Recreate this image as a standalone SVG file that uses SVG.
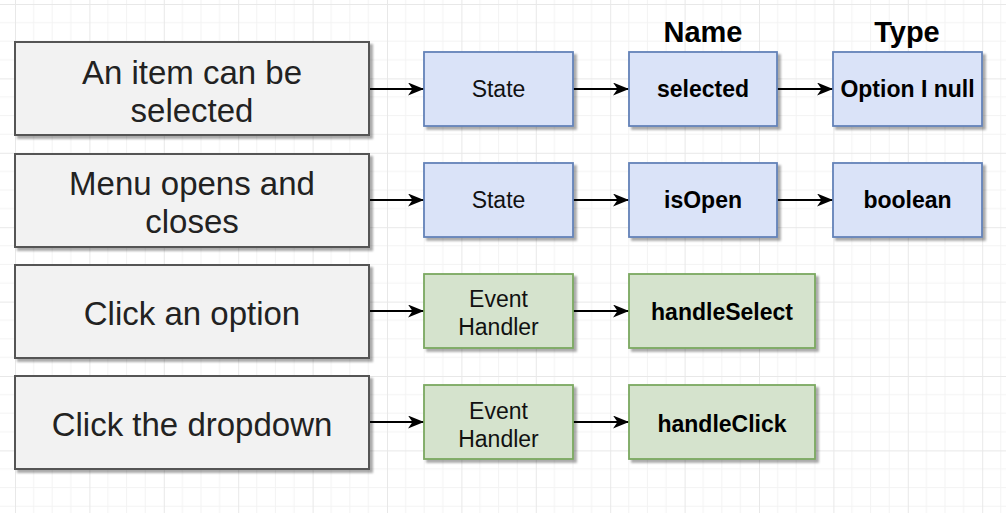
<svg xmlns="http://www.w3.org/2000/svg" width="1006" height="513" viewBox="0 0 1006 513">
<style>
.lbl{font-family:"Liberation Sans",Arial,Helvetica,sans-serif;text-anchor:middle}
.big{font-size:33px;fill:#222}
.sm{font-size:23px;fill:#111}
.bd{font-size:23px;font-weight:bold;fill:#000}
.hd{font-size:29px;font-weight:bold;fill:#000}
.gray{fill:#f2f2f2;stroke:#555;stroke-width:2}
.blue{fill:#dae3f8;stroke:#6382b8;stroke-width:1.8}
.green{fill:#d5e3cd;stroke:#7aa860;stroke-width:1.8}
.conn{stroke:#000;stroke-width:2;fill:none}
</style>
<defs>
<pattern id="grid" patternUnits="userSpaceOnUse" x="15" y="4" width="74.4" height="74.4">
<path d="M18.6 0V74.4M37.2 0V74.4M55.8 0V74.4M0 18.6H74.4M0 37.2H74.4M0 55.8H74.4" stroke="#f3f3f3" stroke-width="1" fill="none"/>
<path d="M0.5 0V74.4M0 0.5H74.4" stroke="#e8e8e8" stroke-width="1" fill="none"/>
</pattern>
<filter id="sh" x="-5%" y="-5%" width="115%" height="125%">
<feDropShadow dx="3" dy="3" stdDeviation="0.8" flood-color="#000" flood-opacity="0.33"/>
</filter>
<marker id="ah" viewBox="0 0 16 13" refX="16" refY="6.5" markerWidth="16" markerHeight="13" markerUnits="userSpaceOnUse" orient="auto">
<path d="M0 0L16 6.5L0 13L4.5 6.5Z" fill="#000"/>
</marker>
</defs>
<rect width="1006" height="513" fill="#fff"/>
<rect width="1006" height="513" fill="url(#grid)"/>

<text class="lbl hd" x="703" y="42">Name</text>
<text class="lbl hd" x="907" y="42">Type</text>

<g id="connectors">
<path class="conn" d="M369 89H424" marker-end="url(#ah)"/>
<path class="conn" d="M573 89H629" marker-end="url(#ah)"/>
<path class="conn" d="M777 89H833" marker-end="url(#ah)"/>
<path class="conn" d="M369 200H424" marker-end="url(#ah)"/>
<path class="conn" d="M573 200H629" marker-end="url(#ah)"/>
<path class="conn" d="M777 200H833" marker-end="url(#ah)"/>
<path class="conn" d="M369 311H424" marker-end="url(#ah)"/>
<path class="conn" d="M573 311H629" marker-end="url(#ah)"/>
<path class="conn" d="M369 422H424" marker-end="url(#ah)"/>
<path class="conn" d="M573 422H629" marker-end="url(#ah)"/>
</g>

<g id="req-selected">
<rect class="gray" x="15" y="42" width="354" height="93" filter="url(#sh)"/>
<text class="lbl big" x="192" y="84">An item can be</text>
<text class="lbl big" x="192" y="122">selected</text>
</g>
<g id="req-open">
<rect class="gray" x="15" y="154" width="354" height="93" filter="url(#sh)"/>
<text class="lbl big" x="192" y="195">Menu opens and</text>
<text class="lbl big" x="192" y="233">closes</text>
</g>
<g id="req-click-option">
<rect class="gray" x="15" y="265" width="354" height="93" filter="url(#sh)"/>
<text class="lbl big" x="192" y="325">Click an option</text>
</g>
<g id="req-click-dropdown">
<rect class="gray" x="15" y="376" width="354" height="93" filter="url(#sh)"/>
<text class="lbl big" x="192" y="436">Click the dropdown</text>
</g>

<g id="state1">
<rect class="blue" x="424" y="52" width="149" height="74" filter="url(#sh)"/>
<text class="lbl sm" x="498.5" y="97">State</text>
</g>
<g id="name-selected">
<rect class="blue" x="629" y="52" width="148" height="74" filter="url(#sh)"/>
<text class="lbl bd" x="703" y="97">selected</text>
</g>
<g id="type-option">
<rect class="blue" x="833" y="52" width="149" height="74" filter="url(#sh)"/>
<text class="lbl bd" x="907.5" y="97">Option I null</text>
</g>

<g id="state2">
<rect class="blue" x="424" y="163" width="149" height="74" filter="url(#sh)"/>
<text class="lbl sm" x="498.5" y="208">State</text>
</g>
<g id="name-isopen">
<rect class="blue" x="629" y="163" width="148" height="74" filter="url(#sh)"/>
<text class="lbl bd" x="703" y="208">isOpen</text>
</g>
<g id="type-boolean">
<rect class="blue" x="833" y="163" width="149" height="74" filter="url(#sh)"/>
<text class="lbl bd" x="907.5" y="208">boolean</text>
</g>

<g id="handler1">
<rect class="green" x="424" y="274" width="149" height="74" filter="url(#sh)"/>
<text class="lbl sm" x="498.5" y="307">Event</text>
<text class="lbl sm" x="498.5" y="335">Handler</text>
</g>
<g id="name-handleselect">
<rect class="green" x="629" y="274" width="186" height="74" filter="url(#sh)"/>
<text class="lbl bd" x="722" y="320">handleSelect</text>
</g>

<g id="handler2">
<rect class="green" x="424" y="385" width="149" height="74" filter="url(#sh)"/>
<text class="lbl sm" x="498.5" y="419">Event</text>
<text class="lbl sm" x="498.5" y="447">Handler</text>
</g>
<g id="name-handleclick">
<rect class="green" x="629" y="385" width="186" height="74" filter="url(#sh)"/>
<text class="lbl bd" x="722" y="432">handleClick</text>
</g>
</svg>
